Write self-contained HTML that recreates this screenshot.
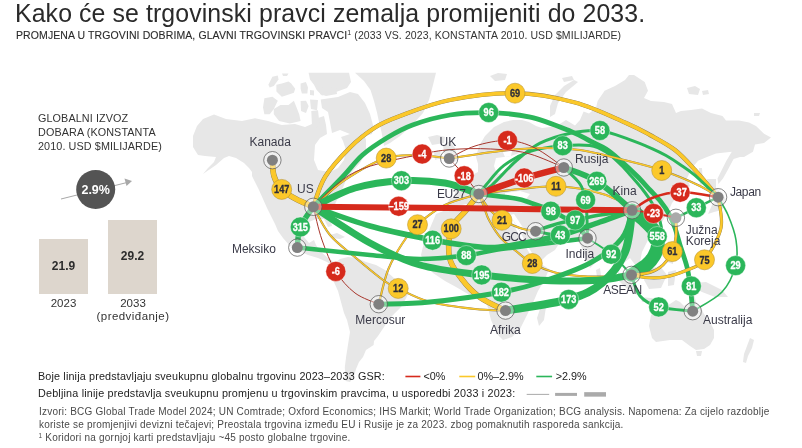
<!DOCTYPE html>
<html><head><meta charset="utf-8"><style>
*{margin:0;padding:0;box-sizing:border-box}
html,body{width:802px;height:448px;overflow:hidden;background:#fff}
body{position:relative;font-family:"Liberation Sans",Arial,sans-serif;color:#333}
.abs{position:absolute;white-space:nowrap}
#title{left:14.8px;top:-1.3px;font-size:25.2px;color:#2a2a2a;letter-spacing:0.1px;line-height:28px;transform:scaleX(0.987);transform-origin:0 0}
#sub{left:16px;top:29px;font-size:10.5px;color:#2a2a2a;line-height:12px;letter-spacing:0.1px;-webkit-text-stroke:0.1px #2a2a2a}
#sub sup{font-size:7px;vertical-align:top;position:relative;top:-2px;-webkit-text-stroke:0}
#sub .np{-webkit-text-stroke:0;color:#333}
#gl{left:38px;top:110.5px;font-size:10.8px;line-height:14px;color:#333;letter-spacing:0.1px}
.bar{position:absolute;background:#ddd6cd}
.bv{position:absolute;font-weight:bold;font-size:12px;color:#2d2d2d;text-align:center;width:50px}
.by{position:absolute;font-size:11.5px;color:#333;text-align:center;line-height:13px}
svg{position:absolute;left:0;top:0}
svg text{font-family:"Liberation Sans",Arial,sans-serif}
.lb{font-size:12px;fill:#3a3a48}
#l1{left:38px;top:369.5px;font-size:10.8px;letter-spacing:0.15px;color:#222}
#l2{left:38px;top:386.7px;font-size:10.8px;letter-spacing:0.18px;color:#222}
.lg{top:369.5px;font-size:10.8px;color:#222}
.ft{left:39px;font-size:10px;color:#4a4a4a;letter-spacing:0.215px;line-height:13px}
</style></head><body>
<div class="abs" id="title">Kako će se trgovinski pravci zemalja promijeniti do 2033.</div>
<div class="abs" id="sub">PROMJENA U TRGOVINI DOBRIMA, GLAVNI TRGOVINSKI PRAVCI<sup>1</sup> <span class="np">(2033 VS. 2023, KONSTANTA 2010. USD $MILIJARDE)</span></div>
<div class="abs" id="gl">GLOBALNI IZVOZ<br>DOBARA (KONSTANTA<br>2010. USD $MILIJARDE)</div>
<div class="bar" style="left:39px;top:238.5px;width:49px;height:55.5px"></div>
<div class="bar" style="left:108px;top:219.5px;width:49px;height:74.5px"></div>
<div class="bv" style="left:38.5px;top:259px">21.9</div>
<div class="bv" style="left:107.5px;top:249px">29.2</div>
<div class="by" style="left:38.5px;top:297px;width:50px">2023</div>
<div class="by" style="left:92px;top:297px;width:82px">2033<br><span style="letter-spacing:0.45px">(predviđanje)</span></div>
<svg width="802" height="448" viewBox="0 0 802 448">
<line x1="61" y1="199" x2="127" y2="182.5" stroke="#a8a8a8" stroke-width="1"/>
<path d="M132,181 L124.5,178.5 L126.5,186 Z" fill="#a8a8a8"/>
<circle cx="95.7" cy="189.4" r="19.5" fill="#545454"/>
<text x="95.7" y="193.8" fill="#fff" font-size="12.5" font-weight="bold" text-anchor="middle">2.9%</text>
<g fill="#e7e7e7">
<path d="M193.0,136.0 L197.0,126.0 L203.0,119.0 L214.0,114.5 L226.0,119.0 L242.0,121.0 L255.0,118.3 L268.0,121.0 L281.8,125.0 L295.0,124.0 L305.0,127.0 L312.0,124.0 L318.0,118.0 L324.0,116.0 L326.0,125.0 L327.0,134.0 L320.0,138.0 L315.0,145.0 L314.0,160.0 L318.0,170.0 L330.0,172.0 L338.0,168.0 L344.0,160.0 L346.0,150.0 L343.0,141.0 L341.0,137.0 L350.0,134.0 L358.0,132.0 L362.0,128.0 L366.0,140.0 L366.0,152.0 L360.0,163.0 L352.0,172.0 L346.0,180.0 L342.0,190.0 L337.0,200.0 L333.0,208.0 L330.0,218.0 L332.0,226.0 L328.0,227.0 L324.0,219.0 L316.0,219.0 L309.0,222.0 L305.0,229.0 L304.0,237.0 L309.0,243.0 L314.0,240.0 L316.0,245.0 L320.0,251.0 L328.0,258.0 L334.0,262.0 L338.0,264.0 L334.0,267.0 L327.0,262.0 L318.0,258.0 L308.0,255.0 L299.0,251.0 L290.0,246.0 L283.0,238.0 L278.0,231.0 L275.0,224.0 L271.0,216.0 L267.0,208.0 L263.0,199.0 L259.0,190.0 L255.0,182.0 L252.0,176.0 L252.0,172.0 L249.0,168.0 L244.0,163.0 L236.0,158.0 L229.0,156.0 L224.0,158.0 L216.0,165.0 L203.0,174.0 L208.0,168.0 L214.0,162.0 L216.0,157.0 L205.0,156.0 L198.0,155.0 L193.0,147.0Z"/>
<path d="M330.0,235.0 L337.0,233.0 L345.0,237.0 L340.0,239.0 L332.0,238.0Z"/>
<path d="M268.4,84.7 L272.4,76.7 L277.8,75.4 L278.5,79.4 L273.8,86.1 L269.7,87.4Z"/>
<path d="M276.4,84.7 L281.8,83.4 L288.5,81.4 L291.2,83.4 L295.2,88.8 L293.9,92.8 L285.8,95.5 L281.8,96.8 L276.4,91.4Z"/>
<path d="M300.6,83.4 L305.9,82.1 L308.0,87.4 L307.3,93.5 L301.9,93.5 L300.6,88.8Z"/>
<path d="M310.0,90.0 L314.0,90.5 L314.0,95.5 L310.0,95.0Z"/>
<path d="M282.0,73.4 L288.5,73.4 L287.0,76.0 L283.0,76.0Z"/>
<path d="M308.6,72.7 L349.0,72.7 L351.0,82.0 L347.0,88.0 L336.0,92.0 L322.0,95.5 L316.7,90.1 L314.0,84.7 L310.0,79.4Z"/>
<path d="M320.0,88.0 L336.0,87.4 L337.0,94.0 L326.0,96.0 L320.0,94.0Z"/>
<path d="M264.4,98.2 L272.4,96.8 L277.8,100.8 L273.8,108.9 L269.7,114.2 L264.4,114.2 L263.0,107.5Z"/>
<path d="M273.8,108.9 L280.5,104.9 L288.5,104.9 L293.9,100.8 L296.6,107.5 L299.2,114.2 L300.6,120.9 L289.9,123.6 L279.1,120.9 L273.8,114.2Z"/>
<path d="M300.6,101.0 L306.0,100.8 L308.6,106.0 L306.0,112.9 L301.0,111.0Z"/>
<path d="M310.0,99.5 L318.0,100.0 L317.0,110.2 L311.0,109.0Z"/>
<path d="M311.3,111.0 L318.0,110.2 L319.3,122.0 L316.0,130.0 L312.0,126.0Z"/>
<path d="M320.7,99.5 L338.0,97.0 L350.0,92.0 L358.0,94.0 L365.0,103.0 L370.0,114.0 L373.5,127.0 L372.0,134.0 L362.0,137.0 L350.0,134.0 L340.0,130.0 L332.0,133.0 L330.0,122.0 L328.0,112.0 L322.0,108.0Z"/>
<path d="M355.0,72.7 L436.0,72.7 L433.0,85.0 L429.0,100.0 L423.0,113.0 L412.0,125.0 L400.0,136.0 L390.0,143.0 L384.0,146.0 L381.5,132.0 L379.0,122.0 L377.0,112.4 L374.0,101.0 L370.5,90.0 L364.0,81.0Z"/>
<path d="M428.0,137.0 L437.0,135.0 L445.0,137.0 L444.0,143.0 L432.0,145.0Z"/>
<path d="M335.0,263.0 L340.0,259.0 L348.0,257.0 L357.0,258.0 L366.0,262.0 L376.0,265.0 L385.0,270.0 L395.0,279.0 L403.0,287.0 L408.0,294.5 L404.0,302.0 L401.0,307.0 L395.0,313.0 L390.0,318.0 L386.0,324.0 L382.0,330.0 L378.0,336.0 L374.0,341.0 L373.6,345.0 L366.0,350.0 L363.0,357.0 L359.0,362.0 L356.0,369.0 L354.0,376.0 L350.0,382.0 L345.5,381.0 L344.8,367.5 L346.1,356.8 L348.2,343.4 L350.0,332.0 L347.0,320.0 L344.0,313.0 L338.0,291.0 L333.0,280.0 L332.0,273.0 L334.0,267.0Z"/>
<path d="M436.0,214.0 L446.0,210.0 L456.0,209.0 L466.0,209.0 L478.0,210.0 L490.0,210.0 L500.0,212.0 L508.0,214.0 L512.0,222.0 L518.0,233.0 L524.0,244.0 L530.0,254.0 L538.0,262.0 L549.0,269.0 L545.0,279.0 L538.0,291.0 L532.0,305.0 L526.0,317.0 L520.0,329.0 L512.0,337.0 L503.0,340.0 L497.0,334.0 L491.0,320.0 L488.0,308.0 L485.5,300.0 L478.0,296.0 L468.0,294.0 L456.0,287.0 L445.0,281.0 L433.0,273.0 L424.0,262.0 L421.0,255.0 L424.0,242.0 L430.0,228.0Z"/>
<path d="M540.0,309.0 L546.0,307.0 L544.0,320.0 L539.0,326.0 L537.0,318.0Z"/>
<path d="M447.0,208.0 L449.0,199.0 L454.0,197.0 L456.0,190.0 L458.0,184.0 L465.0,182.0 L470.0,178.0 L474.0,174.0 L478.0,172.0 L478.0,164.0 L476.0,157.0 L479.0,146.0 L485.0,136.0 L494.0,127.0 L504.0,122.0 L513.0,120.0 L522.0,120.0 L529.0,122.0 L536.0,126.0 L542.0,128.0 L550.0,127.0 L557.5,125.6 L566.0,120.0 L575.0,125.6 L580.0,120.0 L583.6,111.6 L589.0,113.4 L596.0,108.0 L597.6,101.0 L604.6,90.7 L615.0,86.0 L625.0,80.0 L629.0,75.0 L634.0,75.0 L644.7,82.0 L648.0,90.7 L644.0,98.0 L651.0,101.0 L664.0,102.0 L672.0,104.0 L676.0,113.0 L681.0,111.0 L691.0,110.0 L702.0,108.4 L711.0,113.0 L722.5,116.0 L726.0,120.6 L739.0,120.6 L749.0,122.5 L756.0,126.0 L764.0,133.7 L771.0,137.5 L764.0,142.9 L755.0,144.6 L753.0,151.8 L744.0,157.0 L740.0,157.0 L733.6,159.0 L728.0,169.6 L723.0,178.6 L718.4,184.0 L717.5,178.6 L721.0,171.4 L726.4,160.7 L731.8,151.8 L716.0,153.6 L707.0,157.0 L698.0,160.7 L691.0,169.6 L687.0,178.6 L690.0,186.0 L683.0,192.0 L678.0,196.0 L672.0,203.0 L668.0,212.0 L662.0,222.0 L657.0,232.0 L648.0,240.0 L642.0,252.0 L640.0,262.0 L641.0,272.0 L636.0,266.0 L630.0,258.0 L625.0,262.0 L619.0,251.0 L612.0,249.0 L604.0,258.0 L596.0,262.0 L590.0,268.0 L586.0,258.0 L581.0,246.0 L576.0,238.0 L566.0,238.0 L560.0,242.0 L555.0,250.0 L547.0,255.0 L540.0,262.0 L532.0,253.0 L526.0,243.0 L520.0,232.0 L514.0,222.0 L510.0,213.0 L500.0,209.0 L490.0,207.0 L478.0,205.0 L466.0,204.0 L458.0,206.0Z"/>
<path d="M500.0,140.0 L509.0,137.0 L513.0,146.0 L511.0,156.0 L505.0,157.0 L502.0,150.0Z" fill="#fff"/>
<path d="M496.0,158.0 L511.0,156.0 L522.0,152.0 L524.0,155.0 L512.0,160.0 L506.0,172.0 L497.0,174.0 L494.0,166.0Z" fill="#fff"/>
<path d="M443.0,145.0 L450.0,141.0 L455.0,148.0 L458.0,160.0 L451.0,164.0 L445.0,160.0Z"/>
<path d="M434.0,152.0 L440.0,150.0 L441.0,158.0 L435.0,160.0Z"/>
<path d="M707.0,179.0 L716.0,179.0 L716.0,188.0 L722.0,192.0 L726.0,200.0 L722.0,210.0 L714.0,212.0 L708.0,214.0 L712.0,205.0 L716.0,197.0 L710.0,190.0Z"/>
<path d="M699.0,168.0 L702.0,168.0 L703.0,184.0 L700.0,185.0Z"/>
<path d="M660.0,235.0 L663.0,234.0 L663.0,240.0 L660.0,240.0Z"/>
<path d="M664.0,244.0 L670.0,242.0 L674.0,252.0 L673.0,264.0 L667.0,262.0 L664.0,254.0Z"/>
<path d="M618.0,272.0 L628.0,278.0 L640.0,290.0 L637.0,295.0 L626.0,288.0 L618.0,280.0Z"/>
<path d="M645.0,270.0 L660.0,266.0 L667.0,275.0 L661.0,288.0 L649.0,289.0 L644.0,280.0Z"/>
<path d="M640.0,297.0 L662.0,299.0 L665.0,302.5 L642.0,302.0Z"/>
<path d="M668.0,272.0 L676.0,270.0 L674.0,285.0 L668.0,286.0Z"/>
<path d="M696.0,283.0 L706.0,282.0 L722.0,290.0 L728.0,297.0 L715.0,297.0 L702.0,292.0 L696.0,289.0Z"/>
<path d="M651.0,315.0 L656.0,312.0 L662.0,308.0 L670.0,304.0 L676.0,300.0 L680.0,302.0 L684.0,306.0 L690.0,302.0 L694.0,294.0 L696.0,302.0 L700.0,306.0 L704.0,314.0 L710.0,322.0 L714.0,330.0 L714.0,338.0 L710.0,345.0 L704.0,349.0 L696.0,350.0 L690.0,346.0 L682.0,340.0 L670.0,340.0 L656.0,342.0 L652.0,338.0 L649.0,326.0Z"/>
<path d="M696.0,351.0 L702.0,351.0 L701.0,356.0 L697.0,356.0Z"/>
<path d="M750.0,338.0 L754.0,340.0 L752.0,348.0 L748.0,356.0 L746.0,363.0 L743.0,362.0 L744.0,354.0 L747.0,346.0Z"/>
<path d="M505.0,193.0 L520.0,191.0 L530.0,194.0 L526.0,199.0 L512.0,200.0 L505.0,198.0Z" fill="#fff"/>
<path d="M510.0,215.0 L514.0,214.0 L526.0,232.0 L522.0,234.0Z" fill="#fff"/>
<path d="M596.0,270.0 L600.0,268.0 L601.0,276.0 L597.0,277.0Z"/>
<path d="M574.0,80.0 L578.0,82.0 L566.0,92.0 L558.0,103.0 L555.0,114.0 L550.0,117.0 L550.0,106.0 L555.0,95.0 L564.0,86.0Z"/>
<path d="M490.0,76.0 L498.0,73.0 L507.0,74.0 L505.0,80.0 L495.0,81.0Z"/>
<path d="M562.0,78.0 L572.0,76.0 L574.0,80.0 L564.0,82.0Z"/>
<path d="M687.0,88.0 L695.0,86.0 L700.0,89.0 L698.0,95.0 L689.0,94.0Z"/>
<path d="M702.0,91.0 L708.0,90.0 L709.0,94.0 L703.0,95.0Z"/>
<path d="M754.0,113.0 L760.0,113.0 L759.0,116.0 L754.0,116.0Z"/>
</g>
<g fill="none" stroke-linecap="round" stroke-linejoin="round">
<path d="M718.1,197.2 C719.8,200.2 725.0,207.9 728.0,215.0 C731.0,222.1 734.7,231.6 736.0,240.0 C737.3,248.4 737.9,256.9 735.6,265.6 C733.3,274.3 729.1,284.4 722.0,292.0 C714.9,299.6 697.6,308.0 692.7,311.2" stroke="#2bb65a" stroke-width="1.6"/>
<path d="M313.3,206.8 C315.2,201.8 318.9,186.9 325.0,177.0 C331.1,167.1 341.7,155.8 350.0,147.5 C358.3,139.2 366.7,132.8 375.0,127.5 C383.3,122.2 387.5,120.6 400.0,116.0 C412.5,111.4 430.8,103.8 450.0,100.0 C469.2,96.2 494.2,92.8 515.0,93.2 C535.8,93.6 556.7,97.6 575.0,102.5 C593.3,107.4 612.5,117.1 625.0,122.5 C637.5,127.9 641.7,130.4 650.0,135.0 C658.3,139.6 667.5,144.2 675.0,150.0 C682.5,155.8 687.8,162.1 695.0,170.0 C702.2,177.9 714.2,192.7 718.1,197.2" stroke="#8c7c50" stroke-width="4.3"/>
<path d="M313.3,206.8 C315.2,201.8 318.9,186.9 325.0,177.0 C331.1,167.1 341.7,155.8 350.0,147.5 C358.3,139.2 366.7,132.8 375.0,127.5 C383.3,122.2 387.5,120.6 400.0,116.0 C412.5,111.4 430.8,103.8 450.0,100.0 C469.2,96.2 494.2,92.8 515.0,93.2 C535.8,93.6 556.7,97.6 575.0,102.5 C593.3,107.4 612.5,117.1 625.0,122.5 C637.5,127.9 641.7,130.4 650.0,135.0 C658.3,139.6 667.5,144.2 675.0,150.0 C682.5,155.8 687.8,162.1 695.0,170.0 C702.2,177.9 714.2,192.7 718.1,197.2" stroke="#fbc82a" stroke-width="3.6"/>
<path d="M313.3,206.8 C318.2,201.8 334.3,185.6 342.5,177.0 C350.7,168.4 355.0,161.6 362.5,155.0 C370.0,148.4 379.2,142.5 387.5,137.5 C395.8,132.5 402.1,128.8 412.5,125.0 C422.9,121.2 437.3,117.0 450.0,115.0 C462.7,113.0 475.3,112.4 488.7,112.7 C502.1,113.0 516.7,114.0 530.3,117.1 C543.9,120.2 560.5,127.2 570.5,131.2 C580.5,135.2 584.1,138.0 590.0,141.0 C595.9,144.0 600.8,145.7 606.0,149.0 C611.2,152.3 615.8,156.5 621.0,161.0 C626.2,165.5 632.2,171.2 637.0,176.0 C641.8,180.8 646.0,185.7 650.0,190.0 C654.0,194.3 657.8,198.0 661.0,202.0 C664.2,206.0 666.7,209.7 669.0,214.0 C671.3,218.3 673.2,222.8 675.0,228.0 C676.8,233.2 678.0,238.5 680.0,245.0 C682.0,251.5 685.3,260.2 687.0,267.0 C688.7,273.8 689.2,278.6 690.2,286.0 C691.2,293.4 692.3,307.0 692.7,311.2" stroke="#2bb65a" stroke-width="4.8"/>
<path d="M478.8,194.0 C480.0,192.5 481.8,189.8 486.0,185.0 C490.2,180.2 496.6,171.0 504.0,165.4 C511.4,159.8 520.5,154.6 530.3,151.3 C540.1,148.0 552.8,146.6 562.7,145.7 C572.7,144.8 582.8,144.5 590.0,145.6 C597.2,146.7 600.8,148.8 606.0,152.0 C611.2,155.2 616.7,160.8 621.0,165.0 C625.3,169.2 628.3,172.8 632.0,177.0 C635.7,181.2 639.7,185.7 643.0,190.0 C646.3,194.3 649.3,198.3 652.0,203.0 C654.7,207.7 657.3,212.8 659.0,218.0 C660.7,223.2 662.0,228.7 662.0,234.0 C662.0,239.3 661.0,245.2 659.0,250.0 C657.0,254.8 654.6,258.9 650.0,263.0 C645.4,267.1 634.6,272.9 631.5,274.9" stroke="#2bb65a" stroke-width="3.0"/>
<path d="M478.8,194.0 C481.0,192.5 485.8,190.5 492.0,185.0 C498.2,179.5 508.0,168.0 516.0,161.0 C524.0,154.0 530.9,147.8 540.0,143.2 C549.1,138.6 560.5,135.3 570.5,133.2 C580.5,131.1 590.1,129.8 599.9,130.8 C609.6,131.8 620.2,136.4 629.0,139.4 C637.8,142.4 646.3,146.1 652.5,148.8 C658.7,151.5 661.4,152.9 666.0,155.5 C670.6,158.1 675.2,161.1 680.0,164.4 C684.8,167.7 688.6,169.8 695.0,175.3 C701.4,180.8 714.2,193.5 718.1,197.2" stroke="#2bb65a" stroke-width="3.0"/>
<path d="M313.3,206.8 C318.6,202.3 332.9,188.1 345.0,180.0 C357.1,171.9 373.5,162.1 386.0,158.0 C398.5,153.9 409.5,155.4 420.0,155.5 C430.5,155.6 444.3,158.0 449.2,158.5" stroke="#8c7c50" stroke-width="2.1"/>
<path d="M313.3,206.8 C318.6,202.3 332.9,188.1 345.0,180.0 C357.1,171.9 373.5,162.1 386.0,158.0 C398.5,153.9 409.5,155.4 420.0,155.5 C430.5,155.6 444.3,158.0 449.2,158.5" stroke="#fbc82a" stroke-width="1.4"/>
<path d="M449.2,158.5 C457.7,157.2 484.9,152.8 500.0,151.0 C515.1,149.2 526.7,148.2 540.0,148.0 C553.3,147.8 566.7,148.2 580.0,150.0 C593.3,151.8 606.3,155.6 620.0,159.0 C633.7,162.4 648.7,165.8 662.0,170.3 C675.3,174.8 690.6,181.5 700.0,186.0 C709.4,190.5 715.1,195.3 718.1,197.2" stroke="#8c7c50" stroke-width="2.1"/>
<path d="M449.2,158.5 C457.7,157.2 484.9,152.8 500.0,151.0 C515.1,149.2 526.7,148.2 540.0,148.0 C553.3,147.8 566.7,148.2 580.0,150.0 C593.3,151.8 606.3,155.6 620.0,159.0 C633.7,162.4 648.7,165.8 662.0,170.3 C675.3,174.8 690.6,181.5 700.0,186.0 C709.4,190.5 715.1,195.3 718.1,197.2" stroke="#fbc82a" stroke-width="1.4"/>
<path d="M313.3,206.8 C320.2,201.0 336.9,180.8 355.0,172.0 C373.1,163.2 404.5,157.8 422.0,154.0 C439.5,150.2 447.0,149.8 460.0,149.0 C473.0,148.2 488.3,148.7 500.0,149.5 C511.7,150.3 519.4,151.0 530.0,154.0 C540.6,157.0 558.2,165.2 563.8,167.5" stroke="#a8362c" stroke-width="1.0"/>
<path d="M449.2,158.5 C453.5,156.4 465.3,149.0 475.0,146.0 C484.7,143.0 497.5,140.2 507.5,140.5 C517.5,140.8 525.6,143.5 535.0,148.0 C544.4,152.5 559.0,164.2 563.8,167.5" stroke="#a8362c" stroke-width="1.0"/>
<path d="M449.2,158.5 C451.8,161.4 459.8,169.9 464.7,175.8 C469.6,181.7 476.4,191.0 478.8,194.0" stroke="#a8362c" stroke-width="1.0"/>
<path d="M478.8,194.0 C485.7,193.2 507.1,190.3 520.0,189.0 C532.9,187.7 544.0,186.0 556.0,186.3 C568.0,186.6 581.7,188.7 592.0,191.0 C602.3,193.3 611.3,196.8 618.0,200.0 C624.7,203.2 629.8,208.6 632.1,210.3" stroke="#8c7c50" stroke-width="2.1"/>
<path d="M478.8,194.0 C485.7,193.2 507.1,190.3 520.0,189.0 C532.9,187.7 544.0,186.0 556.0,186.3 C568.0,186.6 581.7,188.7 592.0,191.0 C602.3,193.3 611.3,196.8 618.0,200.0 C624.7,203.2 629.8,208.6 632.1,210.3" stroke="#fbc82a" stroke-width="1.4"/>
<path d="M378.8,304.2 C380.3,298.5 384.1,280.0 388.0,270.0 C391.9,260.0 397.1,251.6 402.0,244.0 C406.9,236.4 410.3,231.2 417.5,224.7 C424.7,218.2 434.8,210.1 445.0,205.0 C455.2,199.9 473.2,195.8 478.8,194.0" stroke="#8c7c50" stroke-width="2.1"/>
<path d="M378.8,304.2 C380.3,298.5 384.1,280.0 388.0,270.0 C391.9,260.0 397.1,251.6 402.0,244.0 C406.9,236.4 410.3,231.2 417.5,224.7 C424.7,218.2 434.8,210.1 445.0,205.0 C455.2,199.9 473.2,195.8 478.8,194.0" stroke="#fbc82a" stroke-width="1.4"/>
<path d="M478.8,194.0 C480.7,196.7 486.1,205.7 490.0,210.0 C493.9,214.3 497.5,217.0 502.5,220.0 C507.5,223.0 514.5,226.1 520.0,228.0 C525.5,229.9 533.0,230.7 535.6,231.2" stroke="#8c7c50" stroke-width="2.1"/>
<path d="M478.8,194.0 C480.7,196.7 486.1,205.7 490.0,210.0 C493.9,214.3 497.5,217.0 502.5,220.0 C507.5,223.0 514.5,226.1 520.0,228.0 C525.5,229.9 533.0,230.7 535.6,231.2" stroke="#fbc82a" stroke-width="1.4"/>
<path d="M478.8,194.0 C479.7,196.2 482.3,202.7 484.0,207.0 C485.7,211.3 486.3,215.0 489.0,220.0 C491.7,225.0 495.5,231.8 500.0,237.0 C504.5,242.2 510.6,246.6 516.0,251.0 C521.4,255.4 526.0,259.9 532.5,263.5 C539.0,267.1 547.1,270.4 555.0,272.5 C562.9,274.6 571.7,275.3 580.0,276.0 C588.3,276.7 596.4,276.7 605.0,276.5 C613.6,276.3 627.1,275.2 631.5,274.9" stroke="#8c7c50" stroke-width="2.1"/>
<path d="M478.8,194.0 C479.7,196.2 482.3,202.7 484.0,207.0 C485.7,211.3 486.3,215.0 489.0,220.0 C491.7,225.0 495.5,231.8 500.0,237.0 C504.5,242.2 510.6,246.6 516.0,251.0 C521.4,255.4 526.0,259.9 532.5,263.5 C539.0,267.1 547.1,270.4 555.0,272.5 C562.9,274.6 571.7,275.3 580.0,276.0 C588.3,276.7 596.4,276.7 605.0,276.5 C613.6,276.3 627.1,275.2 631.5,274.9" stroke="#fbc82a" stroke-width="1.4"/>
<path d="M313.3,206.8 C316.1,211.5 322.9,226.5 330.0,235.0 C337.1,243.5 347.2,250.5 356.0,258.0 C364.8,265.5 376.0,274.9 383.0,280.0 C390.0,285.1 390.4,284.7 398.2,288.4 C406.0,292.1 417.2,298.6 430.0,302.0 C442.8,305.4 462.4,307.6 475.0,309.0 C487.6,310.4 500.4,310.3 505.5,310.6" stroke="#8c7c50" stroke-width="2.1"/>
<path d="M313.3,206.8 C316.1,211.5 322.9,226.5 330.0,235.0 C337.1,243.5 347.2,250.5 356.0,258.0 C364.8,265.5 376.0,274.9 383.0,280.0 C390.0,285.1 390.4,284.7 398.2,288.4 C406.0,292.1 417.2,298.6 430.0,302.0 C442.8,305.4 462.4,307.6 475.0,309.0 C487.6,310.4 500.4,310.3 505.5,310.6" stroke="#fbc82a" stroke-width="1.4"/>
<path d="M478.8,194.0 C476.6,196.8 470.1,205.2 465.5,211.0 C460.9,216.8 453.9,220.9 451.2,228.8 C448.6,236.6 447.9,249.6 449.6,258.0 C451.3,266.4 456.7,272.4 461.7,279.0 C466.7,285.6 472.5,292.0 479.8,297.3 C487.1,302.6 501.2,308.4 505.5,310.6" stroke="#8c7c50" stroke-width="5.5"/>
<path d="M478.8,194.0 C476.6,196.8 470.1,205.2 465.5,211.0 C460.9,216.8 453.9,220.9 451.2,228.8 C448.6,236.6 447.9,249.6 449.6,258.0 C451.3,266.4 456.7,272.4 461.7,279.0 C466.7,285.6 472.5,292.0 479.8,297.3 C487.1,302.6 501.2,308.4 505.5,310.6" stroke="#fbc82a" stroke-width="4.8"/>
<path d="M313.3,206.8 C314.8,212.3 318.2,229.2 322.0,240.0 C325.8,250.8 330.3,262.6 335.8,271.4 C341.3,280.2 347.8,287.5 355.0,293.0 C362.2,298.5 374.8,302.3 378.8,304.2" stroke="#a8362c" stroke-width="1.0"/>
<path d="M313.3,206.8 C311.1,210.2 303.0,220.2 300.3,227.0 C297.6,233.8 297.8,244.2 297.3,247.6" stroke="#2bb65a" stroke-width="5.5"/>
<path d="M313.3,206.8 C322.8,210.0 350.1,220.5 370.0,226.0 C389.9,231.5 416.4,236.7 432.6,240.0 C448.8,243.3 456.6,244.3 467.0,245.6 C477.4,246.8 484.5,248.1 495.0,247.5 C505.5,246.9 518.3,244.2 530.0,242.0 C541.7,239.8 553.3,237.3 565.0,234.0 C576.7,230.7 588.8,225.9 600.0,222.0 C611.2,218.1 626.8,212.2 632.1,210.3" stroke="#2bb65a" stroke-width="5.5"/>
<path d="M297.3,247.6 C309.4,248.8 349.6,253.1 370.0,255.0 C390.4,256.9 403.9,258.9 420.0,259.0 C436.1,259.1 453.8,257.0 466.3,255.5 C478.8,254.0 484.4,251.7 495.0,250.0 C505.6,248.3 518.3,247.0 530.0,245.5 C541.7,244.0 555.4,242.2 565.0,241.0 C574.6,239.8 583.8,238.7 587.5,238.2" stroke="#2bb65a" stroke-width="4.5"/>
<path d="M313.3,206.8 C322.8,212.8 352.2,233.3 370.0,243.0 C387.8,252.7 401.4,259.7 420.0,265.0 C438.6,270.3 463.4,272.5 481.7,274.9 C500.0,277.3 515.3,278.5 530.0,279.5 C544.7,280.5 557.5,281.0 570.0,281.0 C582.5,281.0 594.8,280.5 605.0,279.5 C615.2,278.5 627.1,275.7 631.5,274.9" stroke="#2bb65a" stroke-width="7.0"/>
<path d="M378.8,304.2 C387.3,303.8 409.6,304.0 430.0,302.0 C450.4,300.0 483.0,295.4 501.3,292.2 C519.6,288.9 525.2,287.4 540.0,282.5 C554.8,277.6 576.3,270.4 590.0,263.0 C603.7,255.6 615.0,246.8 622.0,238.0 C629.0,229.2 630.4,214.9 632.1,210.3" stroke="#2bb65a" stroke-width="5.0"/>
<path d="M505.5,310.6 C516.0,308.7 552.6,304.0 568.7,299.4 C584.8,294.8 592.6,290.9 602.0,283.0 C611.4,275.1 620.0,264.1 625.0,252.0 C630.0,239.9 630.9,217.2 632.1,210.3" stroke="#2bb65a" stroke-width="8.0"/>
<path d="M313.3,206.8 C320.2,203.7 340.3,192.3 355.0,188.0 C369.7,183.7 386.4,181.5 401.4,180.7 C416.4,179.9 432.1,180.8 445.0,183.0 C457.9,185.2 473.2,192.2 478.8,194.0" stroke="#2bb65a" stroke-width="7.0"/>
<path d="M478.8,194.0 C484.9,194.8 506.9,197.0 515.6,198.5 C524.3,200.0 525.0,201.0 531.0,203.0 C537.0,205.0 545.8,208.0 551.6,210.6 C557.4,213.2 561.2,215.7 565.6,218.4 C570.0,221.1 574.4,223.7 578.0,227.0 C581.6,230.3 585.9,236.3 587.5,238.2" stroke="#2bb65a" stroke-width="4.6"/>
<path d="M535.6,231.2 C537.5,230.5 542.5,228.4 547.0,227.0 C551.5,225.6 557.7,223.7 562.5,222.5 C567.3,221.3 569.5,221.2 575.8,220.0 C582.0,218.8 590.6,216.6 600.0,215.0 C609.4,213.4 626.8,211.1 632.1,210.3" stroke="#2bb65a" stroke-width="3.5"/>
<path d="M535.6,231.2 C539.8,231.8 552.8,235.7 561.0,235.0 C569.2,234.3 576.8,229.8 585.0,227.0 C593.2,224.2 602.1,220.8 610.0,218.0 C617.9,215.2 628.4,211.6 632.1,210.3" stroke="#2bb65a" stroke-width="3.0"/>
<path d="M563.8,167.5 C566.5,170.2 576.4,178.6 580.0,184.0 C583.6,189.4 584.4,193.8 585.6,199.8 C586.8,205.8 586.7,213.6 587.0,220.0 C587.3,226.4 587.4,235.2 587.5,238.2" stroke="#2bb65a" stroke-width="3.0"/>
<path d="M563.8,167.5 C569.3,169.8 585.5,174.2 596.9,181.3 C608.3,188.4 626.2,205.5 632.1,210.3" stroke="#2bb65a" stroke-width="6.0"/>
<path d="M587.5,238.2 C591.5,240.9 604.1,248.2 611.4,254.3 C618.7,260.4 628.1,271.5 631.5,274.9" stroke="#2bb65a" stroke-width="2.0"/>
<path d="M632.1,210.3 C634.2,212.1 641.2,217.4 645.0,221.0 C648.8,224.6 652.8,228.2 655.0,232.0 C657.2,235.8 658.2,240.0 658.0,244.0 C657.8,248.0 656.0,252.4 654.0,256.0 C652.0,259.6 649.8,262.4 646.0,265.5 C642.2,268.6 633.9,273.3 631.5,274.9" stroke="#2bb65a" stroke-width="13.5"/>
<path d="M675.9,217.8 C679.3,216.1 689.4,211.2 696.4,207.8 C703.4,204.4 714.5,199.0 718.1,197.2" stroke="#2bb65a" stroke-width="2.5"/>
<path d="M631.5,274.9 C632.9,278.4 635.5,290.7 640.0,296.0 C644.5,301.3 649.9,304.4 658.7,306.9 C667.5,309.4 687.0,310.5 692.7,311.2" stroke="#2bb65a" stroke-width="3.0"/>
<path d="M675.9,217.8 C675.9,220.8 676.6,230.4 676.0,236.0 C675.4,241.6 674.5,246.6 672.3,251.4 C670.1,256.2 666.7,261.5 663.0,265.0 C659.3,268.5 655.2,270.9 650.0,272.5 C644.8,274.1 634.6,274.5 631.5,274.9" stroke="#8c7c50" stroke-width="2.9"/>
<path d="M675.9,217.8 C675.9,220.8 676.6,230.4 676.0,236.0 C675.4,241.6 674.5,246.6 672.3,251.4 C670.1,256.2 666.7,261.5 663.0,265.0 C659.3,268.5 655.2,270.9 650.0,272.5 C644.8,274.1 634.6,274.5 631.5,274.9" stroke="#fbc82a" stroke-width="2.2"/>
<path d="M718.1,197.2 C718.6,202.3 723.3,217.5 721.0,228.0 C718.7,238.5 710.3,252.9 704.5,260.0 C698.7,267.1 692.6,267.7 686.0,270.5 C679.4,273.3 671.8,275.8 665.0,277.0 C658.2,278.2 650.6,277.9 645.0,277.5 C639.4,277.1 633.8,275.3 631.5,274.9" stroke="#8c7c50" stroke-width="3.2"/>
<path d="M718.1,197.2 C718.6,202.3 723.3,217.5 721.0,228.0 C718.7,238.5 710.3,252.9 704.5,260.0 C698.7,267.1 692.6,267.7 686.0,270.5 C679.4,273.3 671.8,275.8 665.0,277.0 C658.2,278.2 650.6,277.9 645.0,277.5 C639.4,277.1 633.8,275.3 631.5,274.9" stroke="#fbc82a" stroke-width="2.5"/>
<path d="M272.4,160.2 C272.7,162.8 272.4,171.1 274.0,176.0 C275.6,180.9 278.0,185.6 281.7,189.4 C285.4,193.2 290.7,196.1 296.0,199.0 C301.3,201.9 310.4,205.5 313.3,206.8" stroke="#8c7c50" stroke-width="5.7"/>
<path d="M272.4,160.2 C272.7,162.8 272.4,171.1 274.0,176.0 C275.6,180.9 278.0,185.6 281.7,189.4 C285.4,193.2 290.7,196.1 296.0,199.0 C301.3,201.9 310.4,205.5 313.3,206.8" stroke="#fbc82a" stroke-width="5.0"/>
<path d="M313.3,206.8 C327.5,206.9 364.2,207.1 398.7,207.5 C433.1,207.9 481.1,208.5 520.0,209.0 C558.9,209.5 613.4,210.1 632.1,210.3" stroke="#d62a1c" stroke-width="6.0"/>
<path d="M478.8,194.0 C486.4,191.4 510.4,182.6 524.6,178.2 C538.8,173.8 557.3,169.3 563.8,167.5" stroke="#d62a1c" stroke-width="6.5"/>
<path d="M632.1,210.3 C635.4,208.2 644.0,201.0 652.0,198.0 C660.0,195.0 669.4,192.2 680.4,192.1 C691.4,192.0 711.8,196.3 718.1,197.2" stroke="#d62a1c" stroke-width="2.5"/>
<path d="M632.1,210.3 C635.7,210.8 646.5,211.9 653.8,213.2 C661.1,214.4 672.2,217.0 675.9,217.8" stroke="#d62a1c" stroke-width="2.0"/>
</g>
<circle cx="272.4" cy="160.2" r="8.7" fill="#fff" fill-opacity="0.4" stroke="#555" stroke-width="0.7"/>
<circle cx="272.4" cy="160.2" r="5.5" fill="#808080"/>
<circle cx="313.3" cy="206.8" r="8.7" fill="#fff" fill-opacity="0.4" stroke="#555" stroke-width="0.7"/>
<circle cx="313.3" cy="206.8" r="5.5" fill="#808080"/>
<circle cx="297.3" cy="247.6" r="8.7" fill="#fff" fill-opacity="0.4" stroke="#555" stroke-width="0.7"/>
<circle cx="297.3" cy="247.6" r="5.5" fill="#808080"/>
<circle cx="378.8" cy="304.2" r="8.7" fill="#fff" fill-opacity="0.4" stroke="#555" stroke-width="0.7"/>
<circle cx="378.8" cy="304.2" r="5.5" fill="#808080"/>
<circle cx="449.2" cy="158.5" r="8.7" fill="#fff" fill-opacity="0.4" stroke="#555" stroke-width="0.7"/>
<circle cx="449.2" cy="158.5" r="5.5" fill="#808080"/>
<circle cx="478.8" cy="194.0" r="8.7" fill="#fff" fill-opacity="0.4" stroke="#555" stroke-width="0.7"/>
<circle cx="478.8" cy="194.0" r="5.5" fill="#808080"/>
<circle cx="563.8" cy="167.5" r="8.7" fill="#fff" fill-opacity="0.4" stroke="#555" stroke-width="0.7"/>
<circle cx="563.8" cy="167.5" r="5.5" fill="#808080"/>
<circle cx="535.6" cy="231.2" r="8.7" fill="#fff" fill-opacity="0.4" stroke="#555" stroke-width="0.7"/>
<circle cx="535.6" cy="231.2" r="5.5" fill="#808080"/>
<circle cx="587.5" cy="238.2" r="8.7" fill="#fff" fill-opacity="0.4" stroke="#555" stroke-width="0.7"/>
<circle cx="587.5" cy="238.2" r="5.5" fill="#808080"/>
<circle cx="632.1" cy="210.3" r="8.7" fill="#fff" fill-opacity="0.4" stroke="#555" stroke-width="0.7"/>
<circle cx="632.1" cy="210.3" r="5.5" fill="#808080"/>
<circle cx="718.1" cy="197.2" r="8.7" fill="#fff" fill-opacity="0.4" stroke="#555" stroke-width="0.7"/>
<circle cx="718.1" cy="197.2" r="5.5" fill="#808080"/>
<circle cx="675.9" cy="217.8" r="8.7" fill="#fff" fill-opacity="0.4" stroke="#555" stroke-width="0.7"/>
<circle cx="675.9" cy="217.8" r="5.5" fill="#aaaaaa"/>
<circle cx="631.5" cy="274.9" r="8.7" fill="#fff" fill-opacity="0.4" stroke="#555" stroke-width="0.7"/>
<circle cx="631.5" cy="274.9" r="5.5" fill="#808080"/>
<circle cx="692.7" cy="311.2" r="8.7" fill="#fff" fill-opacity="0.4" stroke="#555" stroke-width="0.7"/>
<circle cx="692.7" cy="311.2" r="5.5" fill="#808080"/>
<circle cx="505.5" cy="310.6" r="8.7" fill="#fff" fill-opacity="0.4" stroke="#555" stroke-width="0.7"/>
<circle cx="505.5" cy="310.6" r="5.5" fill="#808080"/>
<circle cx="488.7" cy="112.5" r="10" fill="#2bb65a" stroke="#ffffff" stroke-opacity="0.55" stroke-width="0.7"/>
<text transform="translate(488.70,116.20) scale(0.92,1)" fill="#fff" stroke="#fff" stroke-width="0.3" font-size="10.0" font-weight="bold" text-anchor="middle">96</text>
<circle cx="599.9" cy="130.5" r="10" fill="#2bb65a" stroke="#ffffff" stroke-opacity="0.55" stroke-width="0.7"/>
<text transform="translate(599.90,134.20) scale(0.92,1)" fill="#fff" stroke="#fff" stroke-width="0.3" font-size="10.0" font-weight="bold" text-anchor="middle">58</text>
<circle cx="562.7" cy="145.7" r="10" fill="#2bb65a" stroke="#ffffff" stroke-opacity="0.55" stroke-width="0.7"/>
<text transform="translate(562.70,149.40) scale(0.92,1)" fill="#fff" stroke="#fff" stroke-width="0.3" font-size="10.0" font-weight="bold" text-anchor="middle">83</text>
<circle cx="401.4" cy="180.7" r="10" fill="#2bb65a" stroke="#ffffff" stroke-opacity="0.55" stroke-width="0.7"/>
<text transform="translate(401.40,184.40) scale(0.92,1)" fill="#fff" stroke="#fff" stroke-width="0.3" font-size="10.0" font-weight="bold" text-anchor="middle">303</text>
<circle cx="596.9" cy="181.3" r="10" fill="#2bb65a" stroke="#ffffff" stroke-opacity="0.55" stroke-width="0.7"/>
<text transform="translate(596.90,185.00) scale(0.92,1)" fill="#fff" stroke="#fff" stroke-width="0.3" font-size="10.0" font-weight="bold" text-anchor="middle">269</text>
<circle cx="300.3" cy="227.0" r="10" fill="#2bb65a" stroke="#ffffff" stroke-opacity="0.55" stroke-width="0.7"/>
<text transform="translate(300.30,230.70) scale(0.92,1)" fill="#fff" stroke="#fff" stroke-width="0.3" font-size="10.0" font-weight="bold" text-anchor="middle">315</text>
<circle cx="432.6" cy="240.2" r="10" fill="#2bb65a" stroke="#ffffff" stroke-opacity="0.55" stroke-width="0.7"/>
<text transform="translate(432.60,243.90) scale(0.92,1)" fill="#fff" stroke="#fff" stroke-width="0.3" font-size="10.0" font-weight="bold" text-anchor="middle">116</text>
<circle cx="466.3" cy="255.5" r="10" fill="#2bb65a" stroke="#ffffff" stroke-opacity="0.55" stroke-width="0.7"/>
<text transform="translate(466.30,259.20) scale(0.92,1)" fill="#fff" stroke="#fff" stroke-width="0.3" font-size="10.0" font-weight="bold" text-anchor="middle">88</text>
<circle cx="481.7" cy="274.9" r="10" fill="#2bb65a" stroke="#ffffff" stroke-opacity="0.55" stroke-width="0.7"/>
<text transform="translate(481.70,278.60) scale(0.92,1)" fill="#fff" stroke="#fff" stroke-width="0.3" font-size="10.0" font-weight="bold" text-anchor="middle">195</text>
<circle cx="501.3" cy="292.2" r="10" fill="#2bb65a" stroke="#ffffff" stroke-opacity="0.55" stroke-width="0.7"/>
<text transform="translate(501.30,295.90) scale(0.92,1)" fill="#fff" stroke="#fff" stroke-width="0.3" font-size="10.0" font-weight="bold" text-anchor="middle">182</text>
<circle cx="568.7" cy="299.4" r="10" fill="#2bb65a" stroke="#ffffff" stroke-opacity="0.55" stroke-width="0.7"/>
<text transform="translate(568.70,303.10) scale(0.92,1)" fill="#fff" stroke="#fff" stroke-width="0.3" font-size="10.0" font-weight="bold" text-anchor="middle">173</text>
<circle cx="550.8" cy="211.2" r="10" fill="#2bb65a" stroke="#ffffff" stroke-opacity="0.55" stroke-width="0.7"/>
<text transform="translate(550.75,214.90) scale(0.92,1)" fill="#fff" stroke="#fff" stroke-width="0.3" font-size="10.0" font-weight="bold" text-anchor="middle">98</text>
<circle cx="575.2" cy="220.1" r="10" fill="#2bb65a" stroke="#ffffff" stroke-opacity="0.55" stroke-width="0.7"/>
<text transform="translate(575.20,223.80) scale(0.92,1)" fill="#fff" stroke="#fff" stroke-width="0.3" font-size="10.0" font-weight="bold" text-anchor="middle">97</text>
<circle cx="585.6" cy="199.8" r="10" fill="#2bb65a" stroke="#ffffff" stroke-opacity="0.55" stroke-width="0.7"/>
<text transform="translate(585.60,203.50) scale(0.92,1)" fill="#fff" stroke="#fff" stroke-width="0.3" font-size="10.0" font-weight="bold" text-anchor="middle">69</text>
<circle cx="560.3" cy="235.1" r="10" fill="#2bb65a" stroke="#ffffff" stroke-opacity="0.55" stroke-width="0.7"/>
<text transform="translate(560.30,238.80) scale(0.92,1)" fill="#fff" stroke="#fff" stroke-width="0.3" font-size="10.0" font-weight="bold" text-anchor="middle">43</text>
<circle cx="611.2" cy="254.3" r="10" fill="#2bb65a" stroke="#ffffff" stroke-opacity="0.55" stroke-width="0.7"/>
<text transform="translate(611.20,258.00) scale(0.92,1)" fill="#fff" stroke="#fff" stroke-width="0.3" font-size="10.0" font-weight="bold" text-anchor="middle">92</text>
<circle cx="657.2" cy="236.5" r="10" fill="#2bb65a" stroke="#ffffff" stroke-opacity="0.55" stroke-width="0.7"/>
<text transform="translate(657.20,240.20) scale(0.92,1)" fill="#fff" stroke="#fff" stroke-width="0.3" font-size="10.0" font-weight="bold" text-anchor="middle">558</text>
<circle cx="696.3" cy="207.7" r="10" fill="#2bb65a" stroke="#ffffff" stroke-opacity="0.55" stroke-width="0.7"/>
<text transform="translate(696.30,211.40) scale(0.92,1)" fill="#fff" stroke="#fff" stroke-width="0.3" font-size="10.0" font-weight="bold" text-anchor="middle">33</text>
<circle cx="691.3" cy="286.1" r="10" fill="#2bb65a" stroke="#ffffff" stroke-opacity="0.55" stroke-width="0.7"/>
<text transform="translate(691.30,289.80) scale(0.92,1)" fill="#fff" stroke="#fff" stroke-width="0.3" font-size="10.0" font-weight="bold" text-anchor="middle">81</text>
<circle cx="658.7" cy="306.9" r="10" fill="#2bb65a" stroke="#ffffff" stroke-opacity="0.55" stroke-width="0.7"/>
<text transform="translate(658.70,310.60) scale(0.92,1)" fill="#fff" stroke="#fff" stroke-width="0.3" font-size="10.0" font-weight="bold" text-anchor="middle">52</text>
<circle cx="735.6" cy="265.6" r="10" fill="#2bb65a" stroke="#ffffff" stroke-opacity="0.55" stroke-width="0.7"/>
<text transform="translate(735.60,269.30) scale(0.92,1)" fill="#fff" stroke="#fff" stroke-width="0.3" font-size="10.0" font-weight="bold" text-anchor="middle">29</text>
<circle cx="515.0" cy="93.2" r="10" fill="#fbc82a" stroke="#b89430" stroke-opacity="0.80" stroke-width="0.7"/>
<text transform="translate(515.00,96.90) scale(0.92,1)" fill="#2e2e3a" stroke="#2e2e3a" stroke-width="0.3" font-size="10.0" font-weight="bold" text-anchor="middle">69</text>
<circle cx="386.2" cy="158.1" r="10" fill="#fbc82a" stroke="#b89430" stroke-opacity="0.80" stroke-width="0.7"/>
<text transform="translate(386.20,161.80) scale(0.92,1)" fill="#2e2e3a" stroke="#2e2e3a" stroke-width="0.3" font-size="10.0" font-weight="bold" text-anchor="middle">28</text>
<circle cx="281.7" cy="189.4" r="10" fill="#fbc82a" stroke="#b89430" stroke-opacity="0.80" stroke-width="0.7"/>
<text transform="translate(281.70,193.10) scale(0.92,1)" fill="#2e2e3a" stroke="#2e2e3a" stroke-width="0.3" font-size="10.0" font-weight="bold" text-anchor="middle">147</text>
<circle cx="556.0" cy="186.3" r="10" fill="#fbc82a" stroke="#b89430" stroke-opacity="0.80" stroke-width="0.7"/>
<text transform="translate(556.00,190.00) scale(0.92,1)" fill="#2e2e3a" stroke="#2e2e3a" stroke-width="0.3" font-size="10.0" font-weight="bold" text-anchor="middle">11</text>
<circle cx="661.7" cy="170.5" r="10" fill="#fbc82a" stroke="#b89430" stroke-opacity="0.80" stroke-width="0.7"/>
<text transform="translate(661.70,174.20) scale(0.92,1)" fill="#2e2e3a" stroke="#2e2e3a" stroke-width="0.3" font-size="10.0" font-weight="bold" text-anchor="middle">1</text>
<circle cx="417.5" cy="224.7" r="10" fill="#fbc82a" stroke="#b89430" stroke-opacity="0.80" stroke-width="0.7"/>
<text transform="translate(417.50,228.40) scale(0.92,1)" fill="#2e2e3a" stroke="#2e2e3a" stroke-width="0.3" font-size="10.0" font-weight="bold" text-anchor="middle">27</text>
<circle cx="451.2" cy="228.8" r="10" fill="#fbc82a" stroke="#b89430" stroke-opacity="0.80" stroke-width="0.7"/>
<text transform="translate(451.25,232.45) scale(0.92,1)" fill="#2e2e3a" stroke="#2e2e3a" stroke-width="0.3" font-size="10.0" font-weight="bold" text-anchor="middle">100</text>
<circle cx="502.0" cy="220.3" r="10" fill="#fbc82a" stroke="#b89430" stroke-opacity="0.80" stroke-width="0.7"/>
<text transform="translate(502.00,224.00) scale(0.92,1)" fill="#2e2e3a" stroke="#2e2e3a" stroke-width="0.3" font-size="10.0" font-weight="bold" text-anchor="middle">21</text>
<circle cx="532.3" cy="263.5" r="10" fill="#fbc82a" stroke="#b89430" stroke-opacity="0.80" stroke-width="0.7"/>
<text transform="translate(532.30,267.20) scale(0.92,1)" fill="#2e2e3a" stroke="#2e2e3a" stroke-width="0.3" font-size="10.0" font-weight="bold" text-anchor="middle">28</text>
<circle cx="398.2" cy="288.4" r="10" fill="#fbc82a" stroke="#b89430" stroke-opacity="0.80" stroke-width="0.7"/>
<text transform="translate(398.20,292.10) scale(0.92,1)" fill="#2e2e3a" stroke="#2e2e3a" stroke-width="0.3" font-size="10.0" font-weight="bold" text-anchor="middle">12</text>
<circle cx="672.3" cy="251.6" r="10" fill="#fbc82a" stroke="#b89430" stroke-opacity="0.80" stroke-width="0.7"/>
<text transform="translate(672.30,255.30) scale(0.92,1)" fill="#2e2e3a" stroke="#2e2e3a" stroke-width="0.3" font-size="10.0" font-weight="bold" text-anchor="middle">61</text>
<circle cx="704.5" cy="259.8" r="10" fill="#fbc82a" stroke="#b89430" stroke-opacity="0.80" stroke-width="0.7"/>
<text transform="translate(704.50,263.50) scale(0.92,1)" fill="#2e2e3a" stroke="#2e2e3a" stroke-width="0.3" font-size="10.0" font-weight="bold" text-anchor="middle">75</text>
<circle cx="422.2" cy="154.0" r="10" fill="#d62a1c" stroke="#ffffff" stroke-opacity="0.55" stroke-width="0.7"/>
<text transform="translate(422.20,157.70) scale(0.92,1)" fill="#fff" stroke="#fff" stroke-width="0.3" font-size="10.0" font-weight="bold" text-anchor="middle">-4</text>
<circle cx="507.5" cy="140.5" r="10" fill="#d62a1c" stroke="#ffffff" stroke-opacity="0.55" stroke-width="0.7"/>
<text transform="translate(507.50,144.20) scale(0.92,1)" fill="#fff" stroke="#fff" stroke-width="0.3" font-size="10.0" font-weight="bold" text-anchor="middle">-1</text>
<circle cx="464.2" cy="175.8" r="10" fill="#d62a1c" stroke="#ffffff" stroke-opacity="0.55" stroke-width="0.7"/>
<text transform="translate(464.20,179.50) scale(0.92,1)" fill="#fff" stroke="#fff" stroke-width="0.3" font-size="10.0" font-weight="bold" text-anchor="middle">-18</text>
<circle cx="524.2" cy="178.0" r="10" fill="#d62a1c" stroke="#ffffff" stroke-opacity="0.55" stroke-width="0.7"/>
<text transform="translate(524.20,181.70) scale(0.92,1)" fill="#fff" stroke="#fff" stroke-width="0.3" font-size="10.0" font-weight="bold" text-anchor="middle">-106</text>
<circle cx="398.7" cy="206.3" r="10" fill="#d62a1c" stroke="#ffffff" stroke-opacity="0.55" stroke-width="0.7"/>
<text transform="translate(398.70,210.00) scale(0.92,1)" fill="#fff" stroke="#fff" stroke-width="0.3" font-size="10.0" font-weight="bold" text-anchor="middle">–159</text>
<circle cx="335.8" cy="271.4" r="10" fill="#d62a1c" stroke="#ffffff" stroke-opacity="0.55" stroke-width="0.7"/>
<text transform="translate(335.80,275.10) scale(0.92,1)" fill="#fff" stroke="#fff" stroke-width="0.3" font-size="10.0" font-weight="bold" text-anchor="middle">-6</text>
<circle cx="680.1" cy="192.3" r="10" fill="#d62a1c" stroke="#ffffff" stroke-opacity="0.55" stroke-width="0.7"/>
<text transform="translate(680.10,196.00) scale(0.92,1)" fill="#fff" stroke="#fff" stroke-width="0.3" font-size="10.0" font-weight="bold" text-anchor="middle">-37</text>
<circle cx="653.5" cy="213.5" r="10" fill="#d62a1c" stroke="#ffffff" stroke-opacity="0.55" stroke-width="0.7"/>
<text transform="translate(653.50,217.20) scale(0.92,1)" fill="#fff" stroke="#fff" stroke-width="0.3" font-size="10.0" font-weight="bold" text-anchor="middle">-23</text>
<text x="249.5" y="145.8" class="lb">Kanada</text>
<text x="297.0" y="192.5" class="lb">US</text>
<text x="231.9" y="252.6" class="lb">Meksiko</text>
<text x="355.3" y="323.8" class="lb">Mercosur</text>
<text x="439.5" y="145.8" class="lb">UK</text>
<text x="437.0" y="198.0" class="lb" letter-spacing="-0.4">EU27</text>
<text x="575.0" y="163.2" class="lb">Rusija</text>
<text x="501.8" y="241.3" class="lb" letter-spacing="-0.9">GCC</text>
<text x="565.5" y="257.5" class="lb">Indija</text>
<text x="612.6" y="195.2" class="lb">Kina</text>
<text x="730.0" y="195.6" class="lb" letter-spacing="-0.4">Japan</text>
<text x="685.7" y="234.0" class="lb">Južna</text>
<text x="685.7" y="245.2" class="lb">Koreja</text>
<text x="603.2" y="293.7" class="lb" letter-spacing="-0.4">ASEAN</text>
<text x="703.0" y="323.7" class="lb">Australija</text>
<text x="490.0" y="334.0" class="lb">Afrika</text>
<line x1="405.4" y1="376.5" x2="420.4" y2="376.5" stroke="#d62a1c" stroke-width="1.6"/>
<line x1="459.3" y1="376.5" x2="475.2" y2="376.5" stroke="#fbc82a" stroke-width="1.6"/>
<line x1="536.3" y1="376.5" x2="552.1" y2="376.5" stroke="#2bb65a" stroke-width="1.6"/>
<line x1="526.7" y1="394.4" x2="549.2" y2="394.4" stroke="#a0a0a0" stroke-width="0.9"/>
<line x1="555.1" y1="394.4" x2="577" y2="394.4" stroke="#aaa" stroke-width="3"/>
<line x1="584.2" y1="394.4" x2="606" y2="394.4" stroke="#aaa" stroke-width="4.5"/>
</svg>
<div class="abs" id="l1">Boje linija predstavljaju sveukupnu globalnu trgovinu 2023–2033 GSR:</div>
<div class="abs lg" style="left:423.5px">&lt;0%</div>
<div class="abs lg" style="left:477.5px">0%–2.9%</div>
<div class="abs lg" style="left:555.8px">&gt;2.9%</div>
<div class="abs" id="l2">Debljina linije predstavlja sveukupnu promjenu u trgovinskim pravcima, u usporedbi 2033 i 2023:</div>
<div class="abs ft" style="top:404.9px">Izvori: BCG Global Trade Model 2024; UN Comtrade; Oxford Economics; IHS Markit; World Trade Organization; BCG analysis. Napomena: Za cijelo razdoblje</div>
<div class="abs ft" style="top:417.7px">koriste se promjenjivi devizni tečajevi; Preostala trgovina između EU i Rusije je za 2023. zbog pomaknutih rasporeda sankcija.</div>
<div class="abs ft" style="top:431.4px;left:38.5px"><span style="font-size:6.5px;vertical-align:top;position:relative;top:-2.5px">1</span> Koridori na gornjoj karti predstavljaju ~45 posto globalne trgovine.</div>
</body></html>
